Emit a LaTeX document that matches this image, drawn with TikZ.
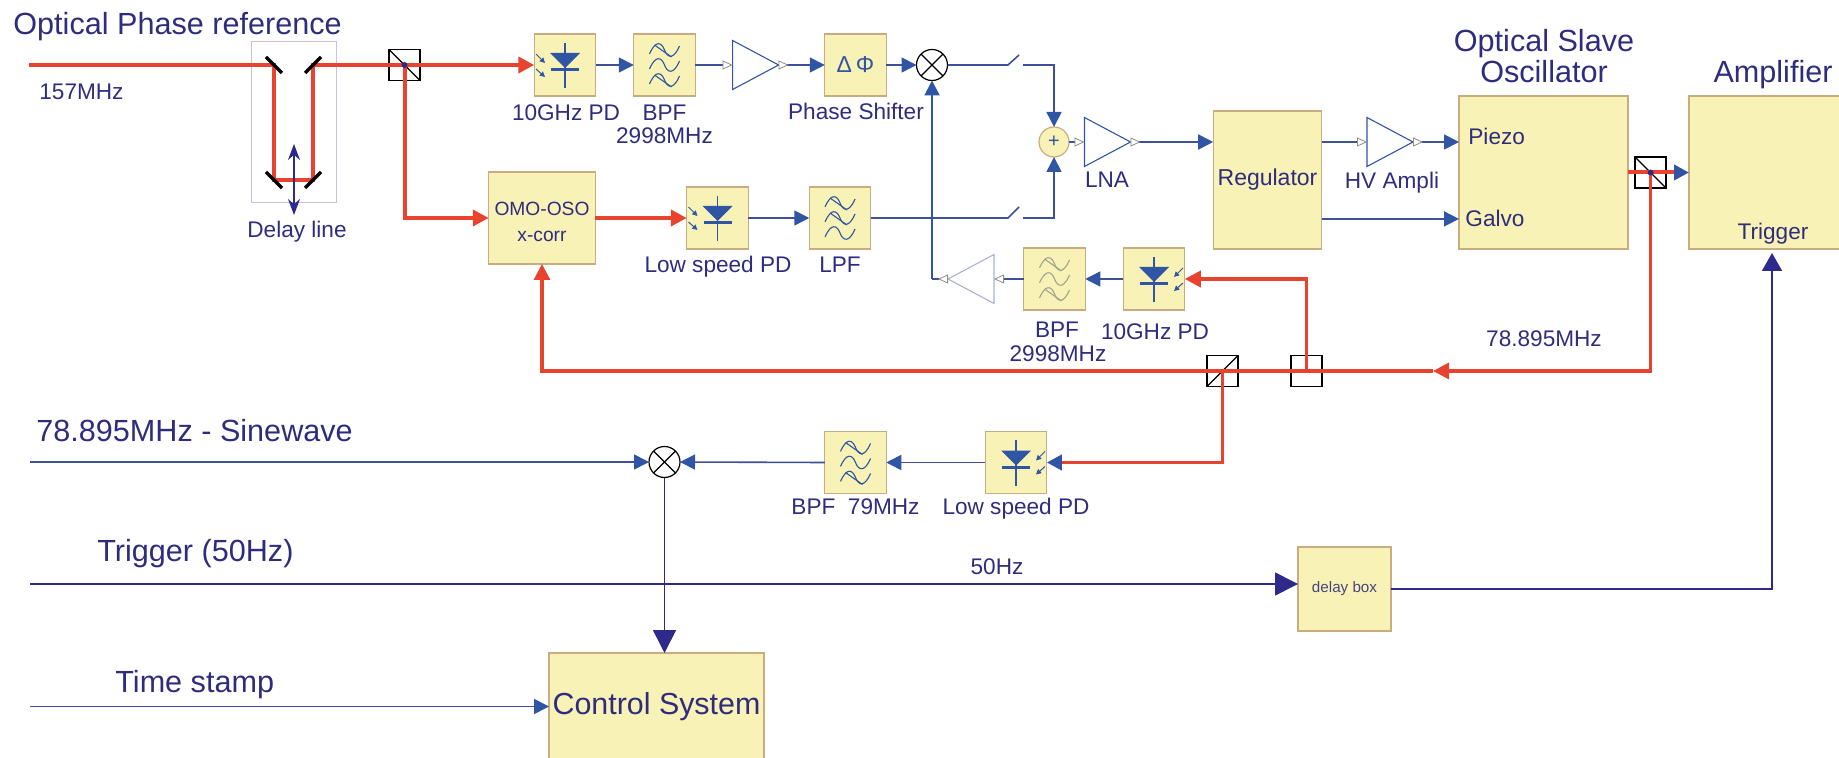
\documentclass[tikz,border=0pt]{standalone}
\usepackage{fontspec}
\setmainfont{Liberation Sans}
\usepackage{xcolor}
\usetikzlibrary{arrows.meta,positioning,shapes.geometric}

\definecolor{boxfill}{HTML}{F8F2B6}
\definecolor{boxedge}{HTML}{C9AD80}
\definecolor{labnavy}{HTML}{2F2C7E}
\definecolor{sigblue}{HTML}{2F55A4}
\definecolor{linkblue}{HTML}{3E4F9C}
\definecolor{deepblue}{HTML}{2E2A8C}
\definecolor{beamred}{HTML}{E8432F}
\definecolor{paleblue}{HTML}{A8B2D4}
\definecolor{palewave}{HTML}{9EA58C}
\definecolor{tipgray}{HTML}{8C8F86}
\definecolor{delayedge}{HTML}{CDBCDA}

\tikzset{
    bluetip/.tip={Triangle[length=7.5pt,width=7.5pt,color=sigblue]},
    redtip/.tip={Triangle[length=8pt,width=8pt,color=beamred]},
    deeptip/.tip={Triangle[length=11.5pt,width=11.5pt,color=deepblue]},
    smalltip/.tip={Triangle[length=5pt,width=4.5pt,line width=.4pt,color=tipgray,fill=white]},
    pics/wave/.style={code={
        \draw[line width=.55pt] (-15,4) .. controls (-9,-10) and (-3,-8) .. (0,0) .. controls (3,8) and (9,10) .. (15,-4);
    }},
    pics/wavecut/.style={code={
        \pic {wave};
        \draw[line width=.55pt] (-10,-5) -- (7,7);
    }},
    pics/bandglyph/.style={code={
        \pic at (0,-15) {wavecut};
        \pic at (0,0) {wave};
        \pic at (0,15) {wavecut};
    }},
    pics/lowglyph/.style={code={
        \pic at (0,-15) {wavecut};
        \pic at (0,0) {wavecut};
        \pic at (0,15) {wave};
    }},
    pics/diode/.style={code={
        \draw[sigblue,line width=.6pt] (0,-22) -- (0,23);
        \fill[sigblue] (-15,-12) -- (15,-12) -- (0,3) -- cycle;
        \draw[sigblue,line width=1.5pt] (-14,5) -- (14,5);
        \draw[sigblue,line width=.5pt,-{Triangle[length=2.6pt,width=2.6pt]}] (-29,-11) -- (-20,-2);
        \draw[sigblue,line width=.5pt,-{Triangle[length=2.6pt,width=2.6pt]}] (-29,4) -- (-20,12);
    }}
}

\begin{document}
\begin{tikzpicture}[
        x=0.5pt, y=-0.5pt,
        line join=miter,
        blockbox/.style={draw=boxedge, fill=boxfill, line width=.6pt, inner sep=0pt, outer sep=0pt, text=labnavy},
        smallbox/.style={blockbox, minimum width=30.75pt, minimum height=31pt},
        ampbox/.style={isosceles triangle, isosceles triangle apex angle=60, isosceles triangle stretches, draw=sigblue, line width=.55pt, inner sep=0pt, outer sep=0pt, minimum width=24.5pt, minimum height=23pt},
        mixbox/.style={circle, draw=black, line width=.6pt, fill=white, inner sep=0pt, outer sep=0pt, minimum size=15.5pt,
            path picture={\draw[line width=.6pt] (path picture bounding box.north west) -- (path picture bounding box.south east);
                \draw[line width=.6pt] (path picture bounding box.south west) -- (path picture bounding box.north east);}},
        splitbox/.style={rectangle, draw=black, line width=.6pt, inner sep=0pt, outer sep=0pt, minimum size=15.5pt},
        splitdown/.style={splitbox, path picture={\draw[line width=.6pt] (path picture bounding box.north west) -- (path picture bounding box.south east);}},
        splitup/.style={splitbox, path picture={\draw[line width=.6pt] (path picture bounding box.south west) -- (path picture bounding box.north east);}},
        lab/.style={font=\fontsize{11.3}{13}\selectfont, text=labnavy, inner sep=0pt, anchor=base},
        title/.style={font=\fontsize{15.3}{18}\selectfont, text=labnavy, inner sep=0pt, anchor=base},
        wire/.style={draw=linkblue, line width=.8pt},
        sig/.style={wire, -{bluetip}},
        beam/.style={draw=beamred, line width=2pt},
        mirror/.style={draw=black, line width=1.7pt}
        ]
        \useasboundingbox (0,0) rectangle (1839,758);

        % Nodes
        \node (delayframe) [draw=delayedge, line width=.5pt, minimum width=42.5pt, minimum height=80.5pt] at (293.5,122.5) {};
        \node (bsa) [splitdown] at (404.5,65) {};
        \node (pda) [smallbox] at (565,65) {};
        \node (bpfa) [smallbox, right=19pt of pda] {};
        \node (ampa) [ampbox, anchor=lower side] at (732.6,65) {};
        \node (shifter) [smallbox, font=\fontsize{11.5}{13}\selectfont, text=sigblue] at (855.5,65) {Δ\,Φ};
        \node (mixa) [mixbox] at (932,65) {};
        \node (suma) [circle, draw=boxedge, fill=boxfill, line width=.6pt, inner sep=0pt, outer sep=0pt, minimum size=15pt, text=sigblue, font=\fontsize{10}{12}\selectfont] at (1054,142) {+};
        \node (lna) [ampbox, anchor=lower side] at (1084.5,142) {};
        \node (omo) [blockbox, minimum width=53.25pt, minimum height=46pt, align=center, font=\fontsize{9.6}{13}\selectfont] at (542,218) {\rule{0pt}{11pt}OMO-OSO\\x-corr};
        \node (pdb) [smallbox] at (717.5,218) {};
        \node (lpf) [smallbox] at (840,218) {};
        \node (reg) [blockbox, minimum width=54.3pt, minimum height=69pt, font=\fontsize{11.5}{13}\selectfont] at (1267.5,180) {Regulator};
        \node (hvamp) [ampbox, anchor=lower side] at (1367,142) {};
        \node (oso) [blockbox, minimum width=84.5pt, minimum height=76.5pt] at (1543.5,172.5) {};
        \node (amp) [blockbox, minimum width=78pt, minimum height=76.5pt] at (1767,172.5) {};
        \node (bsd) [splitdown] at (1650.5,172.5) {};
        \node (pdc) [smallbox] at (1154,279) {};
        \node (bpfb) [smallbox, left=19pt of pdc] {};
        \node (ampc) [ampbox, draw=paleblue, shape border rotate=180, anchor=lower side] at (994,279) {};
        \node (bsb) [splitup] at (1222.5,371) {};
        \node (bsc) [splitbox] at (1306.5,371) {};
        \node (pdd) [smallbox] at (1016,462.5) {};
        \node (bpfc) [smallbox] at (855.5,462.5) {};
        \node (mixb) [mixbox] at (664.5,462) {};
        \node (delaybox) [blockbox, minimum width=46.5pt, minimum height=42pt, font=\fontsize{7.6}{9}\selectfont, text=labnavy!70!gray] at (1344.5,589) {delay box};
        \node (ctrl) [blockbox, minimum width=107.5pt, minimum height=53.5pt, font=\fontsize{15.2}{18}\selectfont] at (656.5,706.5) {Control System};

        % Labels
        \node (toplab) [title, anchor=base west] at (13,35) {Optical Phase reference};
        \node (freqlab) [lab, anchor=base west] at (39,100) {157MHz};
        \node (delaylab) [lab] at (297,238) {Delay line};
        \node (pdalab) [lab] at (566,121) {10GHz PD};
        \node (bpfalab) [lab] at (664.5,121) {BPF};
        \node (bpfafreq) [lab] at (664.5,144) {2998MHz};
        \node (shiftlab) [lab] at (856,120) {Phase Shifter};
        \node (lnalab) [lab] at (1107,188) {LNA};
        \node (hvlab) [lab] at (1392,189) {HV Ampli};
        \node (piezo) [lab, anchor=base west] at (1468,145) {Piezo};
        \node (galvo) [lab, anchor=base west] at (1465,227) {Galvo};
        \node (osolaba) [title] at (1544,52) {Optical Slave};
        \node (osolabb) [title] at (1544,83) {Oscillator};
        \node (amplab) [title] at (1773,83) {Amplifier};
        \node (triglab) [lab] at (1773,240) {Trigger};
        \node (pdblab) [lab] at (718,273) {Low speed PD};
        \node (lpflab) [lab] at (840,273) {LPF};
        \node (bpfblab) [lab] at (1057,338) {BPF};
        \node (bpfbfreq) [lab] at (1058,362) {2998MHz};
        \node (pdclab) [lab] at (1155,340) {10GHz PD};
        \node (retlab) [lab] at (1544,347) {78.895MHz};
        \node (sinelab) [title, anchor=base west] at (36,441.5) {78.895MHz - Sinewave};
        \node (bpfclab) [lab] at (855.5,514) {BPF\ \ 79MHz};
        \node (pddlab) [lab] at (1016,514) {Low speed PD};
        \node (trigtop) [title, anchor=base west] at (97,561) {Trigger (50Hz)};
        \node (fiftylab) [lab] at (997,574) {50Hz};
        \node (stamplab) [title, anchor=base west] at (115,692) {Time stamp};

        % Glyphs
        \pic at (pda) {diode};
        \pic at (pdb) {diode};
        \pic[xscale=-1] at (pdc) {diode};
        \pic[xscale=-1] at (pdd) {diode};
        \pic[draw=sigblue] at (bpfa) {bandglyph};
        \pic[draw=sigblue] at (bpfc) {bandglyph};
        \pic[draw=sigblue] at (lpf) {lowglyph};
        \pic[draw=palewave] at (bpfb) {bandglyph};

        % Free ends
        \coordinate (beamin) at (29,65);
        \coordinate (mirtl) at (274,65);
        \coordinate (mirbl) at (274,180);
        \coordinate (mirbr) at (313,180);
        \coordinate (mirtr) at (313,65);
        \coordinate (shakeup) at (294,144);
        \coordinate (shakedn) at (294,215);
        \coordinate (swa) at (1008,65);
        \coordinate (swatip) at (1019,55);
        \coordinate (swb) at (1023,65);
        \coordinate (swc) at (1008,218);
        \coordinate (swctip) at (1019,207);
        \coordinate (swd) at (1023,218);
        \coordinate (ampcorner) at (932,279);
        \coordinate (retmid) at (1433,371);
        \coordinate (sinein) at (30,462);
        \coordinate (trigin) at (30,584);
        \coordinate (stampin) at (30,706.5);
        \coordinate (amptrig) at (1772,253);

        % Red beams
        \draw[beam, -{redtip}] (beamin) -- (mirtl) -- (mirbl) -- (mirbr) -- (mirtr) -- (pda.west);
        \draw[beam, -{redtip}] (bsa.center) |- (omo.west);
        \draw[beam, -{redtip}] (omo.east) -- (pdb.west);
        \draw[beam, -{bluetip}] (oso.east) -- (amp.west);
        \draw[beam, line width=1.7pt, -{redtip}] (bsd.center) |- (retmid);
        \draw[beam, line width=1.6pt, -{redtip}] (retmid) -| (omo.south);
        \draw[beam, line width=1.8pt, -{redtip}] (bsc.center) |- (pdc.east);
        \draw[beam, line width=1.8pt, -{bluetip}] (bsb.center) |- (pdd.east);
        \fill[deepblue] (bsa.center) circle (3);
        \fill[deepblue] (bsd.center) circle (3);

        % Mirrors
        \draw[mirror] (266,57) -- (282,73);
        \draw[mirror] (321,57) -- (305,73);
        \draw[mirror] (266,172) -- (282,188);
        \draw[mirror] (321,172) -- (305,188);
        \draw[draw=deepblue, line width=.8pt, {Stealth[length=8pt,width=6pt,color=deepblue]}-{Stealth[length=8pt,width=6pt,color=deepblue]}] (shakeup) -- (shakedn);

        % Edges
        \draw[sig] (pda.east) -- (bpfa.west);
        \draw[wire, -{smalltip}] (bpfa.east) -- (ampa.lower side);
        \draw[wire, {smalltip[reversed]}-{bluetip}] (ampa.apex) -- (shifter.west);
        \draw[sig] (shifter.east) -- (mixa.west);
        \draw[wire] (mixa.east) -- (swa) -- (swatip);
        \draw[sig] (swb) -| (suma.north);
        \draw[sig] (pdb.east) -- (lpf.west);
        \draw[wire] (lpf.east) -- (swc) -- (swctip);
        \draw[sig] (swd) -| (suma.south);
        \draw[wire, -{smalltip}] (suma.east) -- (lna.lower side);
        \draw[wire, {smalltip[reversed]}-{bluetip}] (lna.apex) -- (lna.apex -| reg.west);
        \draw[wire, -{smalltip}] (hvamp.lower side -| reg.east) -- (hvamp.lower side);
        \draw[wire, {smalltip[reversed]}-{bluetip}] (hvamp.apex) -- (hvamp.apex -| oso.west);
        \draw[sig] (galvo.west -| reg.east) -- (galvo.west -| oso.west);
        \draw[wire, line width=.6pt, -{bluetip}] (pdc.west) -- (bpfb.east);
        \draw[wire, line width=.6pt, -{smalltip}] (bpfb.west) -- (ampc.lower side);
        \draw[wire, line width=.6pt, {smalltip[reversed]}-] (ampc.apex) -- (ampcorner);
        \draw[sig, draw=sigblue, line width=1pt] (ampcorner) -- (mixa.south);
        \draw[sig] (pdd.west) -- (bpfc.east);
        \draw[sig] (bpfc.west) -- (mixb.east);
        \draw[sig] (sinein) -- (mixb.west);
        \draw[wire, draw=deepblue, -{deeptip}] (mixb.south) -- (mixb.south |- ctrl.north);
        \draw[wire, draw=deepblue, -{deeptip}] (trigin) -- (trigin -| delaybox.west);
        \draw[wire, draw=deepblue, -{Triangle[length=9pt,width=10pt,color=deepblue]}] (delaybox.east) -| (amptrig);
        \draw[sig] (stampin) -- (ctrl.west);

    \end{tikzpicture}
\end{document}
